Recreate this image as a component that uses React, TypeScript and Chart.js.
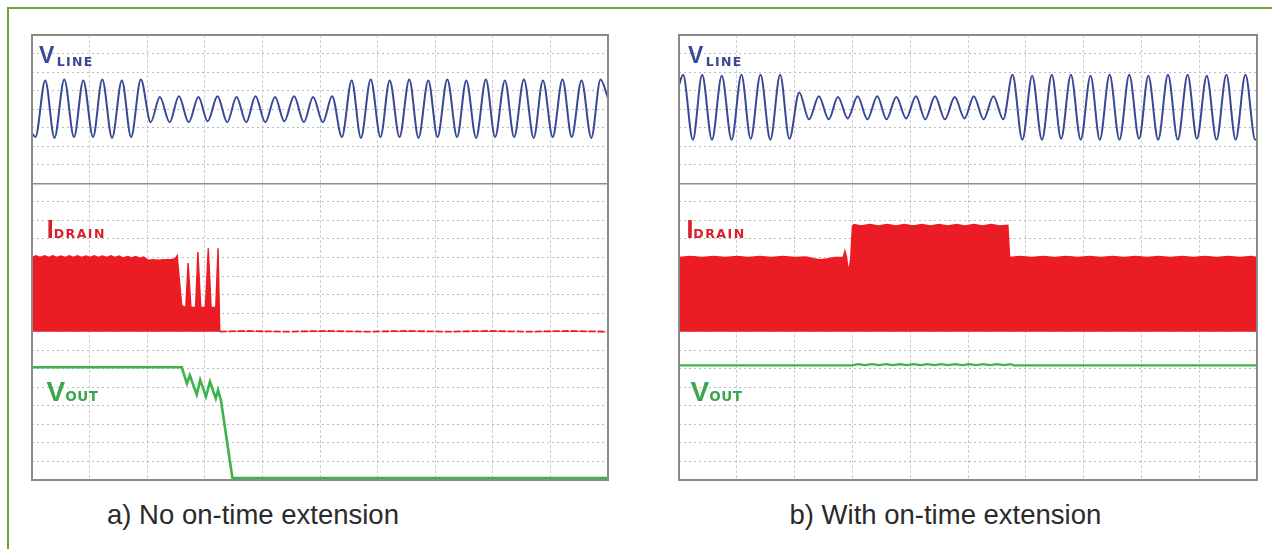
import React, { useEffect, useRef } from "react";
import { Chart, registerables } from "chart.js";

Chart.register(...registerables);

// ---------- Panel a) No on-time extension ----------
const VLINE_A_T = [0, 0.06, 0.23, 0.39, 0.56, 0.73, 0.89, 1.06, 1.22, 1.39, 1.56, 1.72, 1.89, 2.06, 2.22, 2.39, 2.55, 2.72, 2.89, 3.05, 3.22, 3.39, 3.55, 3.72, 3.88, 4.05, 4.22, 4.38, 4.55, 4.72, 4.88, 5.05, 5.21, 5.38, 5.55, 5.71, 5.88, 6.05, 6.21, 6.38, 6.55, 6.71, 6.88, 7.04, 7.21, 7.38, 7.54, 7.71, 7.88, 8.04, 8.21, 8.37, 8.54, 8.71, 8.87, 9.04, 9.21, 9.37, 9.54, 9.71, 9.87, 10];
const VLINE_A_V = [18.7,
  18.5, 21.55, 18.45, 21.6, 18.5, 21.55, 18.5, 21.6, 18.45, 21.55, 18.5, 21.6,
  19.3, 20.65, 19.3, 20.7, 19.3, 20.65, 19.35, 20.7, 19.3, 20.65, 19.3, 20.7, 19.3, 20.65, 19.35, 20.7, 19.3, 20.65, 19.3, 20.7,
  18.5, 21.55, 18.45, 21.6, 18.5, 21.55, 18.5, 21.6, 18.45, 21.55, 18.5, 21.6, 18.5, 21.55, 18.45, 21.6, 18.5, 21.55, 18.5, 21.6, 18.45, 21.55, 18.5, 21.6, 18.5, 21.55, 18.45, 21.6,
  20.6];

const IDRAIN_A_X = [0, 0.07, 0.14, 0.22, 0.29, 0.36, 0.43, 0.5, 0.58, 0.65, 0.72, 0.79, 0.86, 0.94, 1.01, 1.08, 1.15, 1.22, 1.3, 1.37, 1.44, 1.51, 1.58, 1.66, 1.73, 1.8, 1.87, 1.94, 2.02, 2.1, 2.2, 2.3, 2.4, 2.48, 2.52, 2.6, 2.67, 2.71, 2.76, 2.84, 2.88, 2.93, 3.01, 3.06, 3.11, 3.19, 3.23, 3.26, 3.7, 4.4, 5.1, 5.8, 6.5, 7.2, 7.9, 8.6, 9.3, 10];
const IDRAIN_A_Y = [12.0, 12.1, 12.0, 12.1, 12.0, 12.1, 12.0, 12.08, 12.0, 12.1,
  12.0, 12.1, 12.0, 12.08, 12.0, 12.1, 12.0, 12.08, 12.0, 12.1,
  12.0, 12.08, 11.98, 12.06, 11.98, 12.06, 11.96, 12.02,
  11.85, 11.88, 11.85, 11.88, 11.88, 11.92,
  12.1, 9.4, 9.3, 11.7, 9.3, 9.3, 12.3, 9.3, 9.3, 12.5, 9.3, 9.3, 12.5, 8.0,
  8.04, 8.0, 8.04, 8.0, 8.04, 8.0, 8.04, 8.0, 8.04, 8.0];

const VOUT_A_X = [0, 2.6, 2.69, 2.74, 2.86, 2.92, 3.02, 3.09, 3.19, 3.23, 3.28, 3.48, 10];
const VOUT_A_Y = [6.08, 6.08, 5.2, 5.65, 4.6, 5.4, 4.5, 5.3, 4.4, 4.85, 4.3, 0.1, 0.1];

// ---------- Panel b) With on-time extension ----------
const VLINE_B_T = [0, 0.07, 0.24, 0.40, 0.57, 0.74, 0.91, 1.08, 1.24, 1.41, 1.58, 1.75, 1.91, 2.08, 2.25, 2.42, 2.59, 2.75, 2.92, 3.09, 3.26, 3.43, 3.59, 3.76, 3.93, 4.10, 4.26, 4.43, 4.60, 4.77, 4.94, 5.10, 5.27, 5.44, 5.61, 5.77, 5.94, 6.11, 6.28, 6.45, 6.61, 6.78, 6.95, 7.12, 7.28, 7.45, 7.62, 7.79, 7.96, 8.12, 8.29, 8.46, 8.63, 8.80, 8.96, 9.13, 9.30, 9.47, 9.63, 9.80, 9.97, 10];
const VLINE_B_V = [21.3,
  21.85, 18.35, 21.85, 18.35, 21.8, 18.35, 21.85, 18.4, 21.85, 18.35, 21.85,
  18.4, 20.9,
  19.45, 20.7, 19.45, 20.65, 19.5, 20.7, 19.45, 20.7, 19.45, 20.65, 19.5, 20.7, 19.45, 20.7, 19.45, 20.65, 19.5, 20.7, 19.45, 20.7, 19.45,
  21.85, 18.35, 21.8, 18.35, 21.85, 18.4, 21.85, 18.35, 21.8, 18.35, 21.85, 18.35, 21.85, 18.4, 21.8, 18.35, 21.85, 18.35, 21.85, 18.4, 21.8, 18.35, 21.85, 18.35, 21.85, 18.35,
  18.4];

const IDRAIN_B_X = [0, 0.2, 0.4, 0.6, 0.8, 1.0, 1.2, 1.4, 1.6, 1.8, 2.0, 2.2, 2.35, 2.45, 2.55, 2.7, 2.84, 2.87, 2.9, 2.93, 2.97, 3.0, 3.03, 3.15, 3.3, 3.45, 3.6, 3.75, 3.9, 4.05, 4.2, 4.35, 4.5, 4.65, 4.8, 4.95, 5.1, 5.25, 5.4, 5.55, 5.69, 5.72, 5.9, 6.1, 6.3, 6.5, 6.7, 6.9, 7.1, 7.3, 7.5, 7.7, 7.9, 8.1, 8.3, 8.5, 8.7, 8.9, 9.1, 9.3, 9.5, 9.7, 9.9, 10];
const IDRAIN_B_Y = [12.0, 12.05, 12.0, 12.05, 12.0, 12.05, 12.0, 12.05, 12.0, 12.05, 12.0, 12.03,
  11.92, 11.88, 11.92, 12.0,
  12.0, 12.35, 12.0, 11.2, 11.9, 13.7, 13.78,
  13.7, 13.78, 13.7, 13.78, 13.7, 13.78, 13.7, 13.78, 13.7, 13.78, 13.7, 13.78, 13.7, 13.78, 13.7, 13.78, 13.7,
  13.74, 12.0,
  12.05, 12.0, 12.05, 12.0, 12.05, 12.0, 12.05, 12.0, 12.05, 12.0, 12.05, 12.0, 12.05, 12.0, 12.05, 12.0, 12.05, 12.0, 12.05, 12.0, 12.05,
  12.0];

const VOUT_B_X = [0, 2.98, 3.1, 3.22, 3.34, 3.46, 3.58, 3.7, 3.82, 3.94, 4.06, 4.18, 4.3, 4.42, 4.54, 4.66, 4.78, 4.9, 5.02, 5.14, 5.26, 5.38, 5.5, 5.62, 5.74, 5.8, 10];
const VOUT_B_Y = [6.18, 6.18, 6.25, 6.2, 6.25, 6.2, 6.25, 6.2, 6.25, 6.2, 6.25, 6.2, 6.25, 6.2, 6.25, 6.2, 6.25, 6.2, 6.25, 6.2, 6.25, 6.2, 6.25, 6.2, 6.25, 6.18, 6.18];

// axis: 10 horizontal divisions, 24 vertical sub-divisions; IDRAIN baseline level
const X_DIVS = 10;
const Y_DIVS = 24;
const SECTION_LINE = 16;
const IDRAIN_BASE = 8;

const CAPTION_A = "a) No on-time extension";
const CAPTION_B = "b) With on-time extension";

const BLUE = "#374897";
const RED = "#ec1c24";
const GREEN = "#3cb44b";

const pts = (xs: number[], ys: number[]) => xs.map((x, i) => ({ x, y: ys[i] }));

type ScopeProps = {
  left: number;
  width: number;
  vT: number[];
  vV: number[];
  iX: number[];
  iY: number[];
  oX: number[];
  oY: number[];
  voutWidth: number;
};

function Scope({ left, width, vT, vV, iX, iY, oX, oY, voutWidth }: ScopeProps) {
  const ref = useRef<HTMLCanvasElement | null>(null);
  const height = 445;
  useEffect(() => {
    if (!ref.current) return;
    const onBase = (c: any) =>
      Math.abs(c.p0.parsed.y - IDRAIN_BASE) < 0.1 && Math.abs(c.p1.parsed.y - IDRAIN_BASE) < 0.1;
    const chart = new Chart(ref.current, {
      type: "line",
      data: {
        datasets: [
          {
            label: "IDRAIN",
            data: pts(iX, iY),
            borderColor: RED,
            backgroundColor: RED,
            borderWidth: 1.4,
            fill: { value: IDRAIN_BASE },
            pointRadius: 0,
            tension: 0,
            order: 3,
            segment: {
              borderDash: (c: any) => (onBase(c) ? [7, 2] : undefined),
              borderWidth: (c: any) => (onBase(c) ? 1.8 : undefined),
            },
          },
          {
            label: "VOUT",
            data: pts(oX, oY),
            borderColor: GREEN,
            borderWidth: voutWidth,
            fill: false,
            pointRadius: 0,
            tension: 0,
            order: 2,
          },
          {
            label: "VLINE",
            data: pts(vT, vV),
            borderColor: BLUE,
            borderWidth: 2,
            fill: false,
            pointRadius: 0,
            tension: 0.4,
            cubicInterpolationMode: "monotone",
            order: 1,
          },
        ],
      } as any,
      options: {
        animation: false,
        responsive: false,
        devicePixelRatio: 1,
        events: [],
        layout: { padding: 0 },
        plugins: { legend: { display: false }, tooltip: { enabled: false } },
        scales: {
          x: {
            type: "linear",
            min: 0,
            max: X_DIVS,
            ticks: { display: false, stepSize: 1, autoSkip: false, maxTicksLimit: 100 },
            grid: { color: "#cdcdcd", lineWidth: 1, drawTicks: false },
            border: { display: false, dash: [3, 2] },
          },
          y: {
            type: "linear",
            min: 0,
            max: Y_DIVS,
            ticks: { display: false, stepSize: 1, autoSkip: false, maxTicksLimit: 100 },
            grid: {
              color: (c: any) => (c.tick && c.tick.value === SECTION_LINE ? "#8e8e8e" : "#bababa"),
              lineWidth: (c: any) => (c.tick && c.tick.value === SECTION_LINE ? 1.6 : 1),
              drawTicks: false,
            },
            border: {
              display: false,
              dash: (c: any) => (c.tick && c.tick.value === SECTION_LINE ? [] : [2, 3]),
            },
          },
        },
      } as any,
    });
    return () => chart.destroy();
  }, []);
  return (
    <>
      <div style={{ position: "absolute", left, top: 35, width, height }}>
        <canvas ref={ref} width={width} height={height} style={{ display: "block", width, height }} />
      </div>
      <div
        style={{
          position: "absolute",
          left: left - 1,
          top: 34,
          width: width + 2,
          height: height + 2,
          border: "2px solid #8a8a8a",
          boxSizing: "border-box",
          pointerEvents: "none",
        }}
      />
    </>
  );
}

type LabelProps = {
  left: number;
  top: number;
  big: string;
  small: string;
  color: string;
  bigSize: number;
  smallSize: number;
  drop: number;
  gap: number;
  spacing: number;
};

function Label({ left, top, big, small, color, bigSize, smallSize, drop, gap, spacing }: LabelProps) {
  return (
    <div
      style={{
        position: "absolute",
        left,
        top,
        color,
        fontFamily: "'Liberation Sans', Arial, sans-serif",
        fontWeight: 700,
        fontSize: bigSize,
        lineHeight: 1,
        whiteSpace: "nowrap",
      }}
    >
      <span>{big}</span>
      <span
        style={{
          fontFamily: "'DejaVu Sans', sans-serif",
          fontSize: smallSize,
          letterSpacing: spacing,
          marginLeft: gap,
          position: "relative",
          top: drop,
        }}
      >
        {small}
      </span>
    </div>
  );
}

const captionStyle: React.CSSProperties = {
  position: "absolute",
  fontFamily: "'Liberation Sans', Arial, sans-serif",
  fontSize: 27.5,
  lineHeight: 1,
  color: "#2a2a2a",
  whiteSpace: "nowrap",
};

export default function App() {
  return (
    <div
      style={{
        position: "absolute",
        left: 0,
        top: 0,
        width: 1272,
        height: 549,
        background: "#ffffff",
        overflow: "hidden",
      }}
    >
      <div
        style={{
          position: "absolute",
          left: 7,
          top: 7,
          width: 1400,
          height: 700,
          borderTop: "2px solid #6fa33a",
          borderLeft: "2px solid #6fa33a",
        }}
      />
      <Scope left={32} width={576} vT={VLINE_A_T} vV={VLINE_A_V} iX={IDRAIN_A_X} iY={IDRAIN_A_Y} oX={VOUT_A_X} oY={VOUT_A_Y} voutWidth={2.6} />
      <Scope left={679} width={578} vT={VLINE_B_T} vV={VLINE_B_V} iX={IDRAIN_B_X} iY={IDRAIN_B_Y} oX={VOUT_B_X} oY={VOUT_B_Y} voutWidth={2.2} />

      <Label left={39} top={43.8} big="V" small="LINE" color={BLUE} bigSize={23} smallSize={12.5} drop={3.4} gap={2.5} spacing={1.3} />
      <Label left={46.7} top={217.1} big="I" small="DRAIN" color="#d9202a" bigSize={25} smallSize={12.5} drop={0} gap={0} spacing={1.5} />
      <Label left={46.5} top={378.3} big="V" small="OUT" color="#3aa84a" bigSize={28} smallSize={13.5} drop={0} gap={0} spacing={0.5} />

      <Label left={688} top={43.8} big="V" small="LINE" color={BLUE} bigSize={23} smallSize={12.5} drop={3.4} gap={2.5} spacing={1.3} />
      <Label left={686.4} top={217.1} big="I" small="DRAIN" color="#d9202a" bigSize={25} smallSize={12.5} drop={0} gap={0} spacing={1.5} />
      <Label left={690.5} top={378.3} big="V" small="OUT" color="#3aa84a" bigSize={28} smallSize={13.5} drop={0} gap={0} spacing={0.5} />

      <div style={{ ...captionStyle, left: 107, top: 500.7 }}>{CAPTION_A}</div>
      <div style={{ ...captionStyle, left: 789.5, top: 500.7 }}>{CAPTION_B}</div>
    </div>
  );
}
